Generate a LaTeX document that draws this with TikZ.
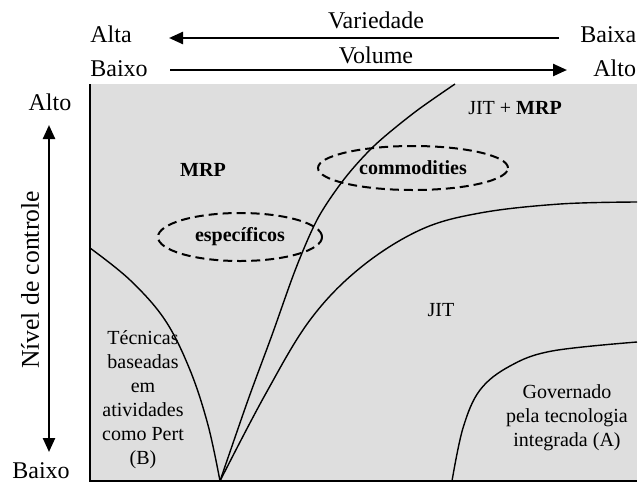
\documentclass[tikz,border=0pt]{standalone}
\usepackage{fontspec}
\setmainfont{Liberation Serif}
\usetikzlibrary{arrows.meta,positioning,shapes.geometric}

\begin{document}
\begin{tikzpicture}[
    x=0.5pt, y=-0.5pt,
    axislabel/.style={font=\fontsize{12}{14}\selectfont, inner sep=0pt},
    zonelabel/.style={font=\fontsize{10}{12}\selectfont, align=center, inner sep=0pt},
    boldlabel/.style={font=\fontsize{10}{12}\selectfont\bfseries, inner sep=0pt},
    axisarrow/.style={-{Triangle[length=7pt,width=6pt]}, line width=1.2pt},
    boundary/.style={line width=0.8pt},
    frontier/.style={line width=0.7pt},
    cluster/.style={ellipse, draw, line width=1pt, dash pattern=on 4.5pt off 2.5pt,
        font=\fontsize{10}{12}\selectfont\bfseries, inner sep=0pt}
]
    \useasboundingbox (0,0) rectangle (641,483);

    % --- Shaded field ---
    \coordinate (f_tl) at (90,84);
    \coordinate (f_bl) at (90,481);
    \coordinate (f_br) at (637,481);
    \fill[black!13] (f_tl) rectangle (f_br);
    \draw[boundary] (f_tl) -- (f_bl) -- (f_br);

    % --- Top axes ---
    \node[axislabel, anchor=base west] (alta) at (90,42) {Alta};
    \node[axislabel, anchor=base west] (baixa) at (580,42) {Baixa};
    \node[axislabel, anchor=base] (variedade) at (376,28) {Variedade};
    \coordinate (var_r) at (559,38);
    \coordinate (var_l) at (169,38);
    \draw[axisarrow] (var_r) -- (var_l);

    \node[axislabel, anchor=base west] (baixo_top) at (90,76) {Baixo};
    \node[axislabel, anchor=base west] (alto_top) at (593,76) {Alto};
    \node[axislabel, anchor=base] (volume) at (376,63) {Volume};
    \coordinate (vol_l) at (170,70);
    \coordinate (vol_r) at (567,70);
    \draw[axisarrow] (vol_l) -- (vol_r);

    % --- Left axis ---
    \node[axislabel, anchor=base] (alto_left) at (50,110) {Alto};
    \node[axislabel, anchor=base] (baixo_left) at (41,478) {Baixo};
    \coordinate (ctl_mid) at (49,290);
    \coordinate (ctl_top) at (49,125);
    \coordinate (ctl_bot) at (49,452);
    \draw[axisarrow] (ctl_mid) -- (ctl_top);
    \draw[axisarrow] (ctl_mid) -- (ctl_bot);
    \node[axislabel, font=\fontsize{12.8}{15}\selectfont, rotate=90] (nivel) at (30,280) {Nível de controle};

    % --- Frontiers ---
    \coordinate (vertex) at (220,481);
    \draw[frontier] plot[smooth, tension=0.6] coordinates
        {(90,248) (130,280) (165,320) (190,370) (208,425) (vertex)};
    \draw[frontier] plot[smooth, tension=0.5] coordinates
        {(vertex) (248,400) (272,335) (296,268) (318,218) (345,178) (375,145) (415,112) (455,84)};
    \draw[frontier] plot[smooth, tension=0.6] coordinates
        {(vertex) (265,395) (310,320) (360,268) (420,230) (480,213) (560,204) (637,202)};
    \draw[frontier] plot[smooth, tension=0.6] coordinates
        {(452,481) (463,428) (480,390) (510,366) (552,351) (637,342)};

    % --- Zone labels ---
    \node[boldlabel] (mrp) at (203,170) {MRP};
    \node[zonelabel] (jitmrp) at (515,108) {JIT + \textbf{MRP}};
    \node[zonelabel] (jit) at (441,310) {JIT};
    \node[zonelabel] (tecnicas) at (143,400) {Técnicas\\baseadas\\em\\atividades\\como Pert\\(B)};
    \node[zonelabel] (governado) at (567,418) {Governado\\pela tecnologia\\integrada (A)};

    % --- Product groups ---
    \node[cluster, minimum width=82pt, minimum height=24pt] (especificos) at (240,237) {específicos};
    \node[cluster, minimum width=95pt, minimum height=22pt] (commodities) at (413,168) {commodities};

\end{tikzpicture}
\end{document}
